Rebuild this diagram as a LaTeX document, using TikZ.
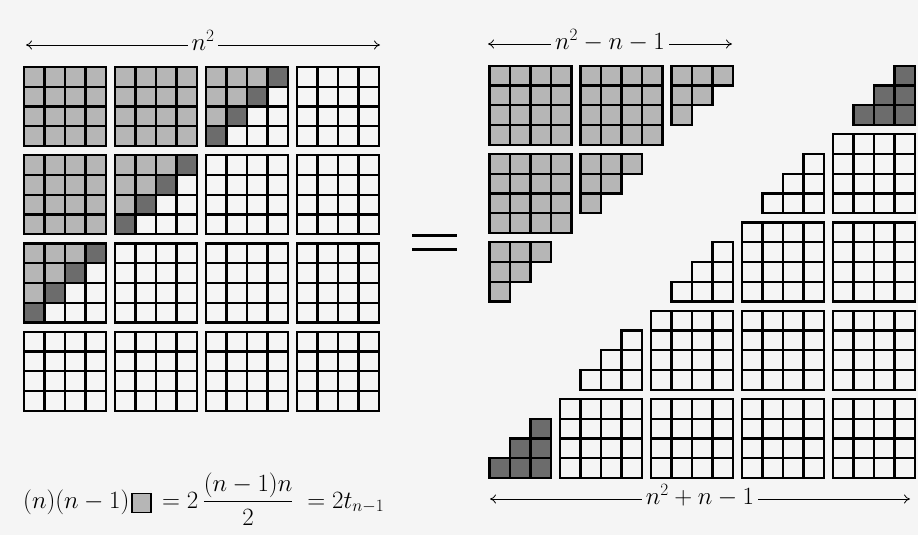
\documentclass[tikz,border=0pt]{standalone}
\usepackage{amsmath}
\usepackage{tikz}
\usepackage{xcolor}
\usetikzlibrary{arrows.meta}
\definecolor{paper}{RGB}{245,245,245}
\definecolor{shade}{RGB}{182,182,182}
\definecolor{deep}{RGB}{108,108,108}
\newcommand{\cellw}{20.5}
\newcommand{\cellh}{19.75}
\newcommand{\blockdx}{91}
\newcommand{\blockdy}{88.25}

\begin{document}
\begin{tikzpicture}[x=1pt, y=-1pt,
    cell/.style = {draw=black, line width=2.3pt},
    light/.style = {cell, fill=shade},
    dark/.style = {cell, fill=deep},
    span/.style = {{To[length=6pt,width=9pt]}-{To[length=6pt,width=9pt]}, line width=0.8pt},
    lbl/.style = {fill=paper, inner sep=4pt, anchor=base, yshift=-5.5pt, font=\fontsize{24}{28}\selectfont},
    formula/.style = {anchor=base west, inner sep=0pt, font=\fontsize{24}{28}\selectfont}
  ]
  \fill[paper] (0,0) rectangle (918,535);
  \useasboundingbox (0,0) rectangle (918,535);

  % left: the n^2 by n^2 square
  \foreach \bi in {0,...,3}
    \foreach \bj in {0,...,3}
      \foreach \ci in {0,...,3}
        \foreach \cj in {0,...,3}{
          \pgfmathtruncatemacro{\idx}{4*(\bi+\bj)+\ci+\cj}
          \ifnum\idx<11 \def\kind{light}\else\ifnum\idx=11 \def\kind{dark}\else\def\kind{cell}\fi\fi
          \draw[\kind] ({24+\bj*\blockdx+\cj*\cellw},{67+\bi*\blockdy+\ci*\cellh}) rectangle ++(\cellw,\cellh);
        }

  % right: shaded part, top left
  \foreach \bi in {0,...,2}
    \foreach \bj in {0,...,2}
      \foreach \ci in {0,...,3}
        \foreach \cj in {0,...,3}{
          \pgfmathtruncatemacro{\idx}{4*(\bi+\bj)+\ci+\cj}
          \ifnum\idx<11
            \draw[light] ({489.5+\bj*\blockdx+\cj*\cellw},{65.75+\bi*\blockdy+\ci*\cellh}) rectangle ++(\cellw,\cellh);
          \fi
        }

  % right: white part and the two dark triangles
  \foreach \bi in {0,...,4}
    \foreach \bj in {0,...,4}
      \foreach \ci in {0,...,3}
        \foreach \cj in {0,...,3}{
          \pgfmathtruncatemacro{\idx}{4*(\bi+\bj)+\ci+\cj}
          \ifnum\idx>19
            \ifnum\bi=0 \def\kind{dark}\else\ifnum\bj=0 \def\kind{dark}\else\def\kind{cell}\fi\fi
            \draw[\kind] ({469+\bj*\blockdx+\cj*\cellw},{46+\bi*\blockdy+\ci*\cellh}) rectangle ++(\cellw,\cellh);
          \fi
        }

  % equals sign
  \draw[line width=3pt] (412,235) -- (457,235);
  \draw[line width=3pt] (412,249) -- (457,249);

  % widths
  \coordinate (sqL) at (26,45);
  \coordinate (sqR) at (380,45);
  \coordinate (topL) at (488,44);
  \coordinate (topR) at (732,44);
  \coordinate (botL) at (490,499);
  \coordinate (botR) at (910,499);
  \draw[span] (sqL) -- (sqR) node[midway, lbl] (sqlbl) {$n^2$};
  \draw[span] (topL) -- (topR) node[midway, lbl] (toplbl) {$n^2-n-1$};
  \draw[span] (botL) -- (botR) node[midway, lbl] (botlbl) {$n^2+n-1$};

  % count
  \node[formula] (lhs) at (23,508) {$(n)(n-1)$};
  \node[light, line width=1.5pt, minimum width=19pt, minimum height=19pt, inner sep=0pt] (unit) at (141.5,503) {};
  \node[formula] (rhs) at (162,508) {$=2\,\dfrac{(n-1)n}{2}\;=2t_{n-1}$};
\end{tikzpicture}
\end{document}
